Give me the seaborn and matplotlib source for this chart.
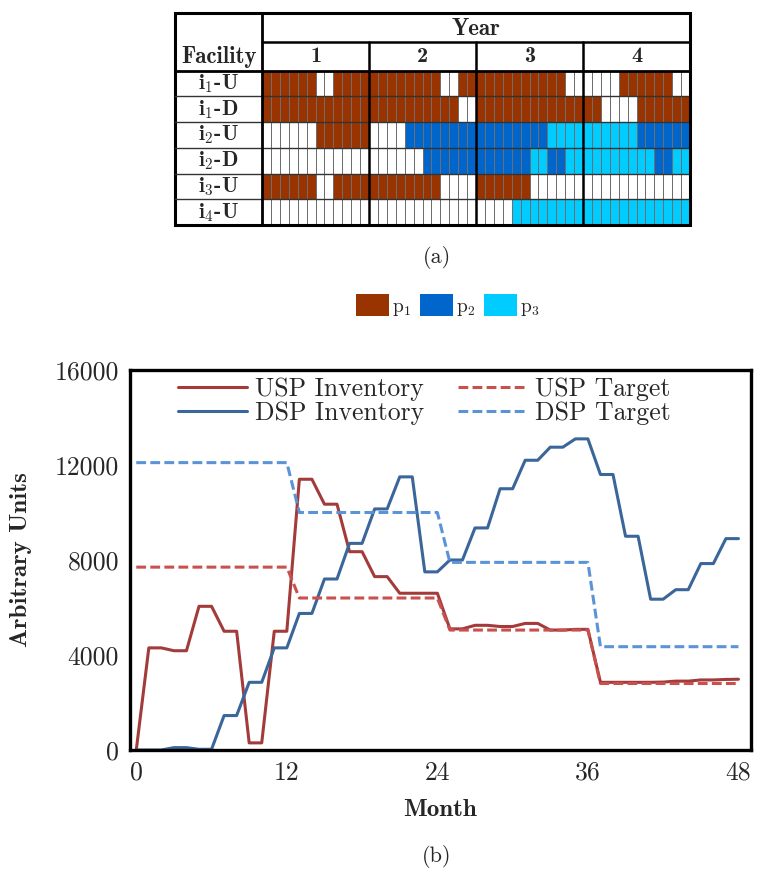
import numpy as np
import pandas as pd
import matplotlib
matplotlib.use("Agg")
import matplotlib.pyplot as plt
import matplotlib.patches as mpatches
from matplotlib.colors import ListedColormap
import seaborn as sns

# ---------------------------------------------------------------------------
# Production schedule (48 months); 0 = idle, 1 = p1, 2 = p2, 3 = p3
# ---------------------------------------------------------------------------
facility_names = [r"$\mathbf{i_1}$-U", r"$\mathbf{i_1}$-D", r"$\mathbf{i_2}$-U",
                  r"$\mathbf{i_2}$-D", r"$\mathbf{i_3}$-U", r"$\mathbf{i_4}$-U"]
sched_i1_U = "111111001111" "111111110011" "111111111100" "000011111100"
sched_i1_D = "111111111111" "111111111100" "111111111111" "110000111111"
sched_i2_U = "000000111111" "000022222222" "222222223333" "333333222222"
sched_i2_D = "000000000000" "000000222222" "222222332233" "333333332233"
sched_i3_U = "111111001111" "111111110000" "111111000000" "000000000000"
sched_i4_U = "000000000000" "000000000000" "000033333333" "333333333333"
years = ["1", "2", "3", "4"]
product_labels = [r"$\mathrm{p}_1$", r"$\mathrm{p}_2$", r"$\mathrm{p}_3$"]
product_colors = ["#993300", "#0066CC", "#00CCFF"]

# ---------------------------------------------------------------------------
# Inventory profiles (arbitrary units) per month
# ---------------------------------------------------------------------------
months = list(range(49))
usp_inventory = [0, 4300, 4300, 4180, 4180, 6050, 6050, 5000, 5000, 300, 300,
                 5000, 5000, 11400, 11400, 10350, 10350, 8350, 8350, 7300, 7300,
                 6600, 6600, 6600, 6600, 5100, 5100, 5250, 5250, 5200, 5200,
                 5330, 5330, 5050, 5050, 5080, 5080, 2850, 2850, 2850, 2850,
                 2850, 2860, 2900, 2900, 2950, 2950, 2970, 2980]
dsp_inventory = [0, 0, 0, 100, 100, 30, 30, 1450, 1450, 2850, 2850, 4300, 4300,
                 5750, 5750, 7200, 7200, 8700, 8700, 10150, 10150, 11500, 11500,
                 7500, 7500, 8000, 8000, 9350, 9350, 11000, 11000, 12200, 12200,
                 12750, 12750, 13100, 13100, 11600, 11600, 9000, 9000, 6350, 6350,
                 6750, 6750, 7850, 7850, 8900, 8900]
usp_target = [7700] * 13 + [6400] * 12 + [5050] * 12 + [2800] * 12
dsp_target = [12100] * 13 + [10000] * 12 + [7900] * 12 + [4350] * 12

series_names = ["USP Inventory", "DSP Inventory", "USP Target", "DSP Target"]
series_colors = ["#A33B3B", "#3A6699", "#C9504D", "#5B93D9"]

# ---------------------------------------------------------------------------
sns.set_theme(style="white")
plt.rcParams["font.family"] = ["cmr10", "DejaVu Serif"]
plt.rcParams["mathtext.fontset"] = "cm"
plt.rcParams["axes.unicode_minus"] = False
plt.rcParams["axes.formatter.use_mathtext"] = True

W, H = 759, 877
fig = plt.figure(figsize=(W / 100, H / 100), dpi=100)


def box(l, t, r, b):
    return [l / W, 1 - b / H, (r - l) / W, (b - t) / H]


# ---------------- (a) schedule grid ----------------
schedules = [sched_i1_U, sched_i1_D, sched_i2_U, sched_i2_D, sched_i3_U, sched_i4_U]
grid = np.array([[int(c) for c in s] for s in schedules])
tab_l, tab_t, tab_r, tab_b = 175, 13, 690, 225
cell_l, cell_t = 262, 70.7

gax = fig.add_axes(box(cell_l, cell_t, tab_r, tab_b))
cmap = ListedColormap(["white"] + product_colors)
sns.heatmap(grid, ax=gax, cmap=cmap, vmin=-0.5, vmax=3.5, cbar=False,
            linewidths=0.55, linecolor="#6e6e6e",
            xticklabels=False, yticklabels=False)
for r in range(1, grid.shape[0]):
    gax.axhline(r, color="#333333", lw=1.0)
for yb in (12, 24, 36):
    gax.axvline(yb, color="black", lw=1.8)

hax = fig.add_axes(box(tab_l, tab_t, tab_r, tab_b))
hax.set_xlim(tab_l, tab_r)
hax.set_ylim(tab_b, tab_t)
hax.axis("off")
row_h = (tab_b - cell_t) / grid.shape[0]
col_w = (tab_r - cell_l) / grid.shape[1]
for k in range(1, grid.shape[0]):
    yy = cell_t + k * row_h
    hax.plot([tab_l, cell_l], [yy, yy], color="#333333", lw=1.0, clip_on=False)
hax.plot([cell_l, tab_r], [42, 42], color="black", lw=1.8, clip_on=False)
hax.plot([tab_l, tab_r], [cell_t, cell_t], color="black", lw=2.0, clip_on=False)
hax.plot([cell_l, cell_l], [tab_t, tab_b], color="black", lw=2.0, clip_on=False)
for k in (1, 2, 3):
    xx = cell_l + 12 * k * col_w
    hax.plot([xx, xx], [42, cell_t], color="black", lw=1.8, clip_on=False)
hax.add_patch(mpatches.Rectangle((tab_l, tab_t), tab_r - tab_l, tab_b - tab_t,
                                 fill=False, ec="black", lw=2.2, clip_on=False))
hax.text((cell_l + tab_r) / 2, 29, "Year", family="cmb10", fontsize=16.5,
         ha="center", va="center")
hax.text((tab_l + cell_l) / 2, 57, "Facility", family="cmb10", fontsize=16.5,
         ha="center", va="center")
for k, yl in enumerate(years):
    hax.text(cell_l + (12 * k + 6) * col_w, 56.5, yl, family="cmb10",
             fontsize=16, ha="center", va="center")
for k, nm in enumerate(facility_names):
    hax.text((tab_l + cell_l) / 2, cell_t + (k + 0.5) * row_h, nm,
             family="cmb10", fontsize=15.5, ha="center", va="center")

fig.text(437 / W, 1 - 258 / H, "(a)", fontsize=16, ha="center", va="center")

handles = [mpatches.Patch(facecolor=c, edgecolor="none") for c in product_colors]
fig.legend(handles, product_labels, loc="center", ncol=3,
           bbox_to_anchor=(448 / W, 1 - 306 / H), frameon=False, fontsize=14,
           handlelength=1.7, handleheight=1.35, handletextpad=0.15,
           columnspacing=0.45, borderaxespad=0, borderpad=0)

# ---------------- (b) inventory profiles ----------------
ax = fig.add_axes(box(130, 370, 751, 750))
df = pd.DataFrame({
    "Month": months * 4,
    "Value": usp_inventory + dsp_inventory + usp_target + dsp_target,
    "Series": sum([[n] * len(months) for n in series_names], []),
})
sns.lineplot(data=df, x="Month", y="Value", hue="Series", style="Series",
             hue_order=series_names, style_order=series_names,
             palette=dict(zip(series_names, series_colors)),
             dashes={"USP Inventory": "", "DSP Inventory": "",
                     "USP Target": (3.2, 1.4), "DSP Target": (3.2, 1.4)},
             linewidth=2.2, ax=ax, legend=False)

ax.set_xlim(-0.5, 49)
ax.set_ylim(0, 16000)
ax.set_xticks([0, 12, 24, 36, 48])
ax.set_xticklabels(["0", "12", "24", "36", "48"])
ax.set_yticks([0, 4000, 8000, 12000, 16000])
ax.set_yticklabels(["0", "4000", "8000", "12000", "16000"])
ax.tick_params(axis="both", direction="out", length=5, width=2.2,
               labelsize=18.5, color="black", pad=3)
for sp in ax.spines.values():
    sp.set_color("black")
    sp.set_linewidth(2.4)
ax.set_xlabel("Month", family="cmb10", fontsize=18, labelpad=10)
ax.set_ylabel("Arbitrary Units", family="cmb10", fontsize=18, labelpad=16)

leg_handles = [plt.Line2D([], [], color=c, lw=2.2,
                          ls="-" if "Inventory" in n else (0, (3.2, 1.4)))
               for n, c in zip(series_names, series_colors)]
ax.legend(leg_handles, series_names, ncol=2, loc="upper left",
          bbox_to_anchor=(0.069, 0.995), frameon=False, fontsize=18.5,
          handlelength=2.7, handletextpad=0.3, columnspacing=1.3,
          labelspacing=0.0, borderaxespad=0.0, borderpad=0.2)

fig.text(437 / W, 1 - 857 / H, "(b)", fontsize=16, ha="center", va="center")

fig.savefig("out.png", dpi=100)
